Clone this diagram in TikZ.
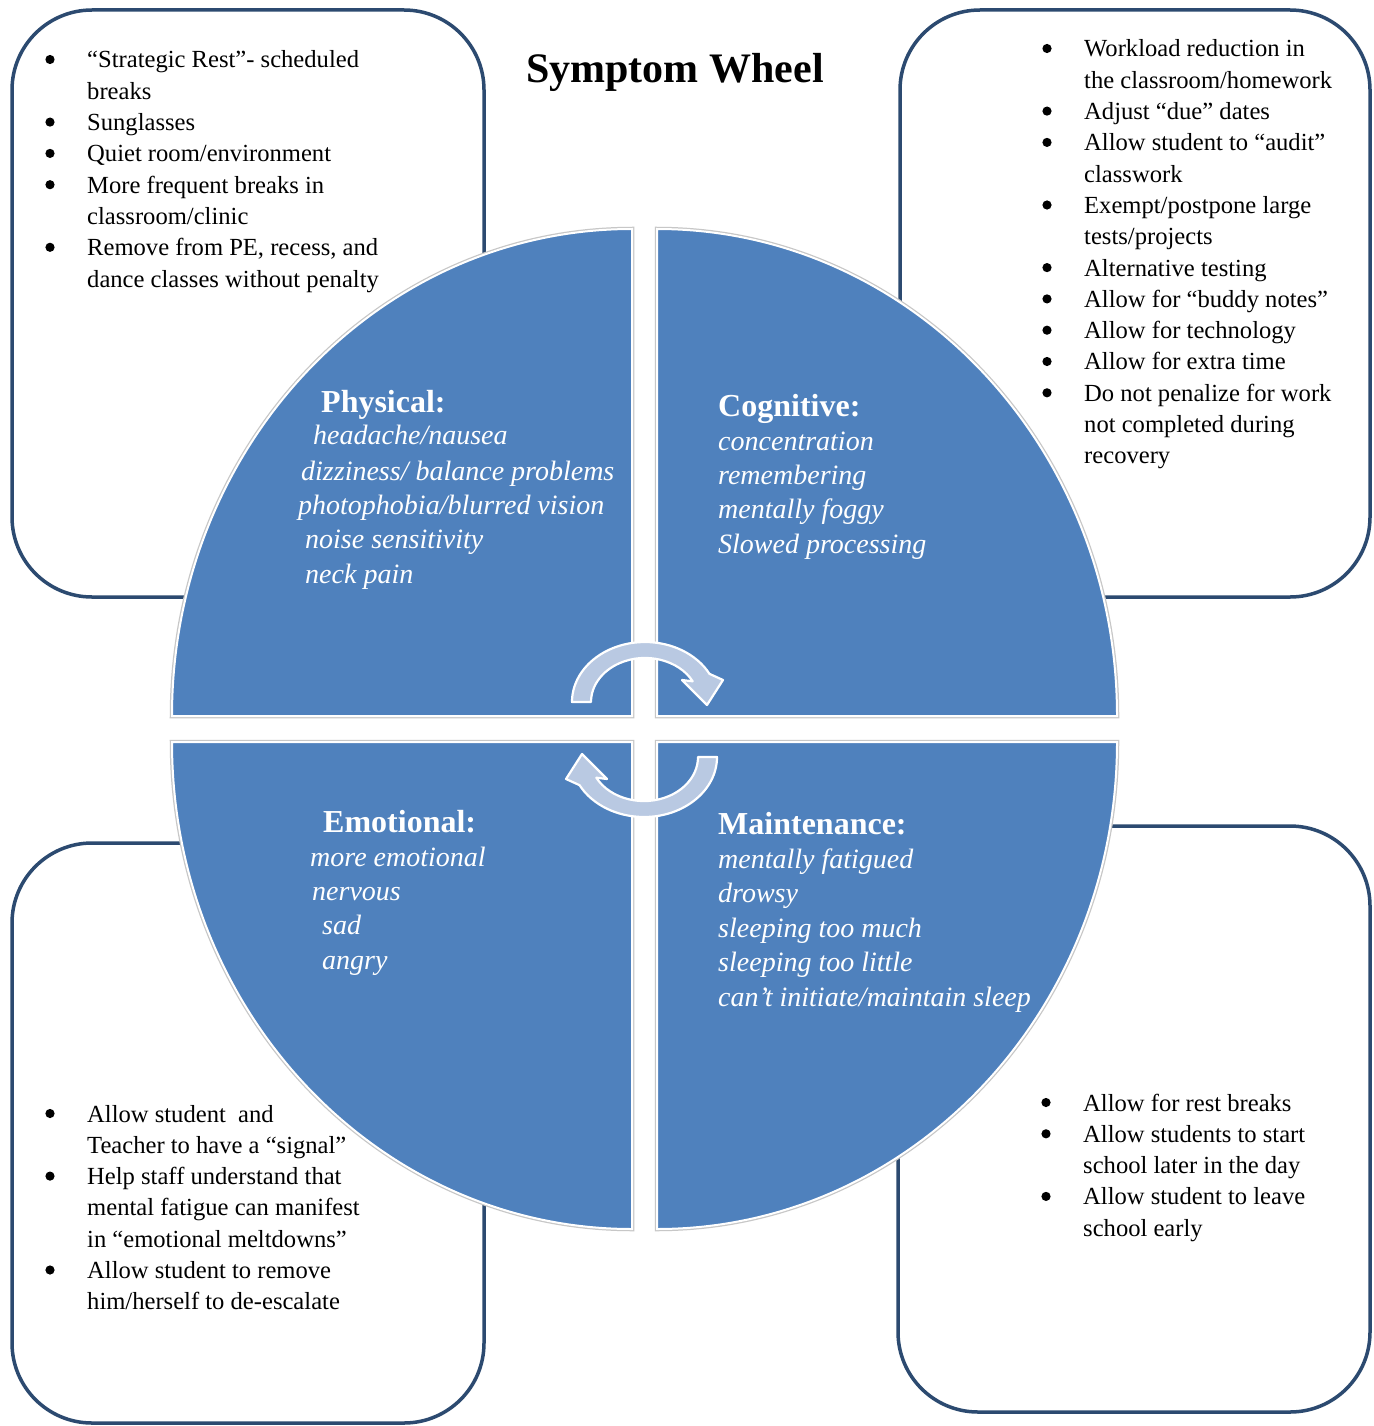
\documentclass[tikz,border=0pt]{standalone}
\usepackage{fontspec}
\setmainfont{Liberation Serif}
\definecolor{qblue}{HTML}{4F81BD}
\definecolor{boxline}{HTML}{2C4A70}
\definecolor{arrowfill}{HTML}{B9C9E2}
\newcommand{\bitem}[1]{\par\noindent\hangindent=37pt\hangafter=1\hspace*{37pt}#1}
\newcommand{\blist}[1]{\vtop{\hsize=420pt\parskip=0pt\parindent=0pt #1\par}}
\begin{document}
\begin{tikzpicture}[x=1pt,y=-1pt,
  box/.style={draw=boxline, line width=3.5pt, rounded corners=80pt},
  quad/.style={fill=qblue, draw=white, line width=2pt},
  quadhalo/.style={draw=black!22, line width=4.5pt},
  cyc/.style={fill=arrowfill, draw=white, line width=2.2pt, line join=round},
  list/.style={anchor=base west, inner sep=0pt, font=\fontsize{24.6}{31.3}\selectfont},
  qhead/.style={anchor=base west, inner sep=0pt, text=white, font=\fontsize{32}{36}\selectfont\bfseries},
  qitem/.style={anchor=base west, inner sep=0pt, text=white, font=\fontsize{28}{32}\selectfont\itshape}]
\useasboundingbox (0,0) rectangle (1373,1426);
\fill[white] (0,0) rectangle (1373,1426);

% corner boxes
\draw[box] (12,10) rectangle (484,597);
\draw[box] (900,10) rectangle (1370,597);
\draw[box] (12,843) rectangle (484,1423);
\draw[box] (898,826) rectangle (1370,1412);

% quadrants
\def\qTL{(172,716) arc[start angle=180,end angle=270,x radius=460,y radius=487] -- (632,716) -- cycle}
\def\qTR{(657,229) arc[start angle=270,end angle=360,x radius=460,y radius=487] -- (657,716) -- cycle}
\def\qBL{(632,1229) arc[start angle=90,end angle=180,x radius=460,y radius=487] -- (632,742) -- cycle}
\def\qBR{(1117,742) arc[start angle=0,end angle=90,x radius=460,y radius=487] -- (657,742) -- cycle}
\draw[quadhalo] \qTL; \draw[quadhalo] \qTR; \draw[quadhalo] \qBL; \draw[quadhalo] \qBR;
\filldraw[quad] \qTL; \filldraw[quad] \qTR; \filldraw[quad] \qBL; \filldraw[quad] \qBR;

% cycle arrows
\def\cycarrow{(572,702) arc[start angle=180,end angle=332,x radius=73,y radius=60] -- (723,680) -- (707,705) -- (682,680) -- (692.7,681.3) arc[start angle=332,end angle=180,x radius=54,y radius=44] -- cycle}
\path[cyc] \cycarrow;
\path[cyc, rotate around={180:(644.5,729.5)}] \cycarrow;

% title
\node[anchor=base, inner sep=0pt, font=\fontsize{42}{48}\selectfont\bfseries] (title) at (675,83) {Symptom Wheel};

% quadrant texts
\node[qhead] (ph) at (321,412) {Physical:};
\node[qitem] (ph1) at (313,444) {headache/nausea};
\node[qitem] (ph2) at (301,480) {dizziness/ balance problems};
\node[qitem] (ph3) at (298,514) {photophobia/blurred vision};
\node[qitem] (ph4) at (305,548) {noise sensitivity};
\node[qitem] (ph5) at (305,583) {neck pain};

\node[qhead] (cg) at (718,416) {Cognitive:};
\node[qitem] (cg1) at (718,450) {concentration};
\node[qitem] (cg2) at (718,484) {remembering};
\node[qitem] (cg3) at (718,518) {mentally foggy};
\node[qitem] (cg4) at (718,553) {Slowed processing};

\node[qhead] (em) at (323,832) {Emotional:};
\node[qitem] (em1) at (310,866) {more emotional};
\node[qitem] (em2) at (312,900) {nervous};
\node[qitem] (em3) at (322,934) {sad};
\node[qitem] (em4) at (322,969) {angry};

\node[qhead] (mt) at (718,834) {Maintenance:};
\node[qitem] (mt1) at (718,868) {mentally fatigued};
\node[qitem] (mt2) at (718,902) {drowsy};
\node[qitem] (mt3) at (718,937) {sleeping too much};
\node[qitem] (mt4) at (718,971) {sleeping too little};
\node[qitem] (mt5) at (718,1006) {can’t initiate/maintain sleep};

% lists
\node[list] (ltl) at (50,68) {\blist{%
\bitem{“Strategic Rest”- scheduled\newline breaks}
\bitem{Sunglasses}
\bitem{Quiet room/environment}
\bitem{More frequent breaks in\newline classroom/clinic}
\bitem{Remove from PE, recess, and\newline dance classes without penalty}}};

\node[list] (ltr) at (1047,57) {\blist{%
\bitem{Workload reduction in\newline the classroom/homework}
\bitem{Adjust “due” dates}
\bitem{Allow student to “audit”\newline classwork}
\bitem{Exempt/postpone large\newline tests/projects}
\bitem{Alternative testing}
\bitem{Allow for “buddy notes”}
\bitem{Allow for technology}
\bitem{Allow for extra time}
\bitem{Do not penalize for work\newline not completed during\newline recovery}}};

\node[list] (lbl) at (50,1122) {\blist{%
\bitem{Allow student\ \ and\newline Teacher to have a “signal”}
\bitem{Help staff understand that\newline mental fatigue can manifest\newline in “emotional meltdowns”}
\bitem{Allow student to remove\newline him/herself to de-escalate}}};

\node[list] (lbr) at (1046,1111) {\blist{%
\bitem{Allow for rest breaks}
\bitem{Allow students to start\newline school later in the day}
\bitem{Allow student to leave\newline school early}}};

% bullets
\foreach \i in {0,2,3,4,6} \fill (50,68+31.3*\i-8.5) circle[radius=4.6];
\foreach \i in {0,2,3,5,7,8,9,10,11} \fill (1047,57+31.3*\i-8.5) circle[radius=4.6];
\foreach \i in {0,2,5} \fill (50,1122+31.3*\i-8.5) circle[radius=4.6];
\foreach \i in {0,1,3} \fill (1046,1111+31.3*\i-8.5) circle[radius=4.6];
\end{tikzpicture}
\end{document}
